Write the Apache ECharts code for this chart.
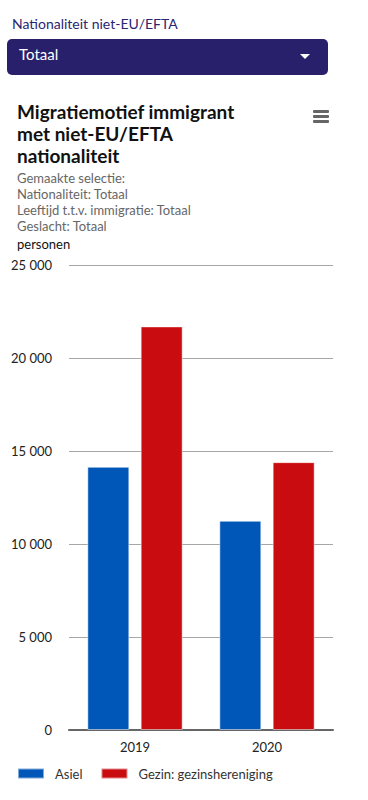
<!DOCTYPE html>
<html>
<head>
<meta charset="utf-8">
<script src="https://cdn.jsdelivr.net/npm/echarts@6/dist/echarts.min.js"></script>
<style>
html,body{margin:0;padding:0;background:#fff;}
#chart{width:368px;height:800px;}
</style>
</head>
<body>
<div id="chart"></div>
<script>
const categories = ['2019', '2020'];
const asiel = [14150, 11250];
const gezin = [21700, 14400];
const seriesNames = ['Asiel', 'Gezin: gezinshereniging'];
const yTicks = [0, 5000, 10000, 15000, 20000, 25000];
const titleText = 'Migratiemotief immigrant\nmet niet-EU/EFTA\nnationaliteit';
const subText = 'Gemaakte selectie:\nNationaliteit: Totaal\nLeeftijd t.t.v. immigratie: Totaal\nGeslacht: Totaal';
const unitText = 'personen';
const filterLabel = 'Nationaliteit niet-EU/EFTA';
const filterValue = 'Totaal';

const FONT = 'Lato, "Noto Sans", sans-serif';
const chart = echarts.init(document.getElementById('chart'), null, {renderer: 'svg'});

function fmt(v) {
  return String(v).replace(/\B(?=(\d{3})+(?!\d))/g, ' ');
}

chart.setOption({
  animation: false,
  textStyle: {fontFamily: FONT},
  title: {
    text: titleText,
    subtext: subText,
    left: 12,
    top: 100,
    padding: [0, 0, 0, 5],
    itemGap: 4,
    textStyle: {fontFamily: FONT, fontSize: 19, fontWeight: 'bold', color: '#111', lineHeight: 22},
    subtextStyle: {fontFamily: FONT, fontSize: 13, color: '#666', lineHeight: 16}
  },
  graphic: [
    {type: 'text', left: 12, top: 16, style: {text: filterLabel, font: '14px ' + FONT, fill: '#2a2670'}},
    {type: 'rect', shape: {x: 7, y: 39, width: 321, height: 36, r: 5}, style: {fill: '#29206b'}},
    {type: 'text', left: 19, top: 46, style: {text: filterValue, font: '15px ' + FONT, fill: '#fff'}},
    {type: 'polygon', shape: {points: [[300, 54], [310, 54], [305, 59]]}, style: {fill: '#fff'}},
    {type: 'rect', shape: {x: 313, y: 110, width: 16, height: 3, r: 1}, style: {fill: '#666'}},
    {type: 'rect', shape: {x: 313, y: 115, width: 16, height: 3, r: 1}, style: {fill: '#666'}},
    {type: 'rect', shape: {x: 313, y: 120, width: 16, height: 3, r: 1}, style: {fill: '#666'}},
    {type: 'text', left: 17, top: 237, style: {text: unitText, font: '13px ' + FONT, fill: '#111'}}
  ],
  legend: {
    left: 12,
    top: 762,
    itemWidth: 26,
    itemHeight: 10,
    itemGap: 18,
    icon: 'rect',
    textStyle: {fontFamily: FONT, fontSize: 13, color: '#333', padding: [0, 0, 0, 6]},
    data: seriesNames
  },
  grid: {left: 69, right: 35, top: 265, bottom: 70, containLabel: false},
  xAxis: {
    type: 'category',
    data: categories,
    axisLine: {lineStyle: {color: '#666', width: 2}},
    axisTick: {show: false},
    axisLabel: {color: '#222', fontSize: 13, margin: 10, fontFamily: FONT}
  },
  yAxis: {
    type: 'value',
    min: yTicks[0],
    max: yTicks[yTicks.length - 1],
    interval: 5000,
    axisLine: {show: false},
    axisTick: {show: false},
    axisLabel: {color: '#222', fontSize: 13, margin: 17, fontFamily: FONT, formatter: fmt},
    splitLine: {lineStyle: {color: '#a6a6a6', width: 1}}
  },
  series: [
    {name: seriesNames[0], type: 'bar', data: asiel, barWidth: 42, barGap: '27%',
     itemStyle: {color: '#0057b7', borderColor: 'rgba(255,255,255,0.5)', borderWidth: 1}},
    {name: seriesNames[1], type: 'bar', data: gezin, barWidth: 42,
     itemStyle: {color: '#c90c10', borderColor: 'rgba(255,255,255,0.5)', borderWidth: 1}}
  ]
});
</script>
</body>
</html>
